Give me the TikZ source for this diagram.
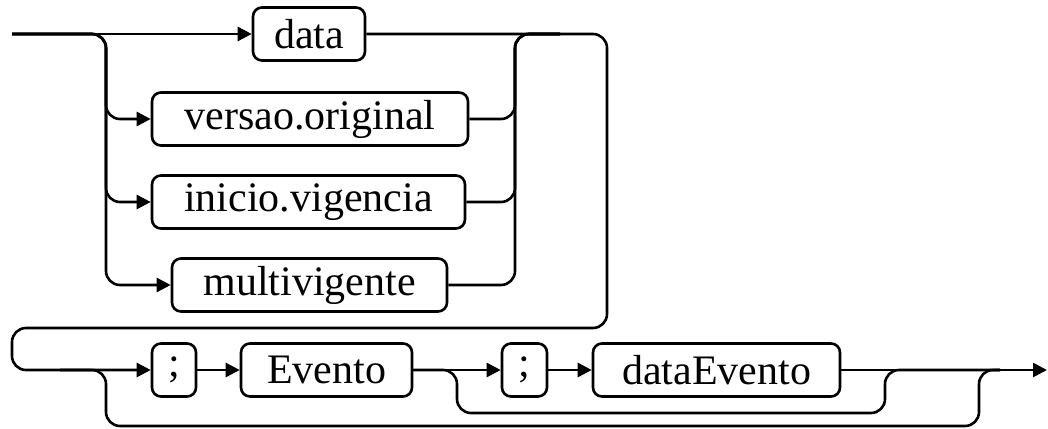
\documentclass[tikz,border=0pt]{standalone}
\usepackage{fontspec}
\setmainfont{Liberation Serif}
\usetikzlibrary{arrows.meta}
\begin{document}
\begin{tikzpicture}[x=1pt,y=-1pt, line width=2.6pt,
  term/.style={draw, rounded corners=9pt, minimum height=53pt, inner sep=0pt,
               font=\fontsize{42}{46}\selectfont},
  conn/.style={rounded corners=14pt},
  arr/.style={-{Triangle[length=14pt,width=14pt]}}]
\useasboundingbox (0,0) rectangle (1048,428);

% terminals
\node[term, minimum width=112pt] (data)   at (309,34)    {data};
\node[term, minimum width=316pt] (versao) at (310,119)   {versao.original};
\node[term, minimum width=313pt] (inicio) at (308.5,202) {inicio.vigencia};
\node[term, minimum width=275pt] (multi)  at (309.5,285) {multivigente};
\node[term, minimum width=44pt]  (semi1)  at (174,370)   {;};
\node[term, minimum width=171pt] (evento) at (326.5,370) {Evento};
\node[term, minimum width=45pt]  (semi2)  at (524.5,370) {;};
\node[term, minimum width=247pt] (dataev) at (716.5,370) {dataEvento};

\coordinate (start) at (12,34);
\coordinate (joinR) at (560,34);
\coordinate (split2) at (60,370);
\coordinate (joinE) at (1000,370);
\coordinate (end) at (1047,370);

% top choice
\draw[arr] (start) -- (data.west);
\draw[conn, arr] (start) -- (106,34) -- (106,119) -- (versao.west);
\draw[conn, arr] (start) -- (106,34) -- (106,202) -- (inicio.west);
\draw[conn, arr] (start) -- (106,34) -- (106,285) -- (multi.west);
\draw[conn] (versao.east) -- (515,119) -- (515,34) -- (joinR);
\draw[conn] (inicio.east) -- (515,202) -- (515,34) -- (joinR);
\draw[conn] (multi.east) -- (515,285) -- (515,34) -- (joinR);

% wrap to second row
\draw[conn, arr] (data.east) -- (607,34) -- (607,328) -- (12,328) -- (12,370) -- (semi1.west);

% second row
\draw[arr] (semi1.east) -- (evento.west);
\draw[arr] (evento.east) -- (semi2.west);
\draw[arr] (semi2.east) -- (dataev.west);
\draw[arr] (dataev.east) -- (end);
\draw[conn] (evento.east) -- (457,370) -- (457,413) -- (885,413) -- (885,370) -- (joinE);
\draw[conn] (split2) -- (106,370) -- (106,426) -- (979,426) -- (979,370) -- (joinE);
\end{tikzpicture}
\end{document}
